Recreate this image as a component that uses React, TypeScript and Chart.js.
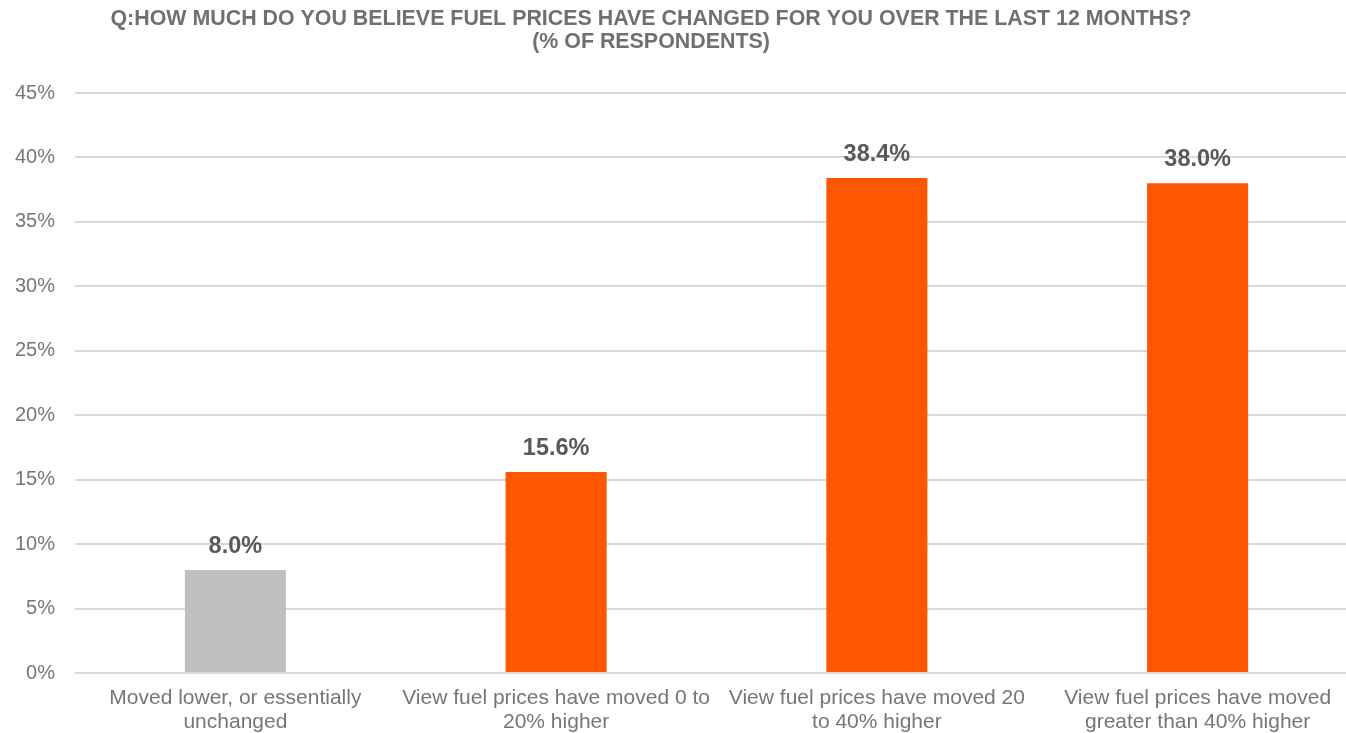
import React, { useEffect, useRef } from "react";
import { Chart, registerables } from "chart.js";

Chart.register(...registerables);

const titleLines = [
  "Q:HOW MUCH DO YOU BELIEVE FUEL PRICES HAVE CHANGED FOR YOU OVER THE LAST 12 MONTHS?",
  "(% OF RESPONDENTS)",
];

const categories: string[][] = [
  ["Moved lower, or essentially", "unchanged"],
  ["View fuel prices have moved 0 to", "20% higher"],
  ["View fuel prices have moved 20", "to 40% higher"],
  ["View fuel prices have moved", "greater than 40% higher"],
];

const respondentShare = [8.0, 15.6, 38.4, 38.0];

const barColors = ["#BFBFBF", "#FF5600", "#FF5600", "#FF5600"];

const yTicks = [0, 5, 10, 15, 20, 25, 30, 35, 40, 45];

const FONT = "'Liberation Sans', Arial, Helvetica, sans-serif";

// Two-line heading drawn in the space above the plot area
const titlePlugin = {
  id: "centredTitle",
  afterDraw(chart: Chart) {
    const ctx = chart.ctx;
    ctx.save();
    ctx.font = `bold 21.4px ${FONT}`;
    ctx.fillStyle = "#707070";
    ctx.textAlign = "center";
    ctx.textBaseline = "alphabetic";
    ctx.fillText(titleLines[0], 651, 25);
    ctx.fillText(titleLines[1], 651, 48);
    ctx.restore();
  },
};

// Percentage value printed above each bar
const valueLabelPlugin = {
  id: "valueLabels",
  afterDatasetsDraw(chart: Chart) {
    const ctx = chart.ctx;
    const meta = chart.getDatasetMeta(0);
    ctx.save();
    ctx.font = `bold 23.5px ${FONT}`;
    ctx.fillStyle = "#595959";
    ctx.textAlign = "center";
    ctx.textBaseline = "alphabetic";
    meta.data.forEach((bar: any, i: number) => {
      const v = respondentShare[i];
      ctx.fillText(v.toFixed(1) + "%", bar.x, bar.y - 17);
    });
    ctx.restore();
  },
};

export default function App() {
  const canvasRef = useRef<HTMLCanvasElement | null>(null);

  useEffect(() => {
    if (!canvasRef.current) return;
    const chart = new Chart(canvasRef.current, {
      type: "bar",
      data: {
        labels: categories,
        datasets: [
          {
            data: respondentShare,
            backgroundColor: barColors,
            borderWidth: 0,
            categoryPercentage: 1,
            barPercentage: 0.315,
          },
        ],
      },
      options: {
        responsive: false,
        animation: false,
        layout: { padding: { top: 93, right: 0, bottom: 0, left: 0 } },
        plugins: {
          legend: { display: false },
          title: { display: false },
          tooltip: { enabled: false },
        },
        scales: {
          x: {
            grid: { display: false, drawTicks: false },
            border: { display: false },
            ticks: {
              color: "#767676",
              font: { family: FONT, size: 21, lineHeight: 1.14 },
              padding: 13,
              maxRotation: 0,
              autoSkip: false,
            },
            afterFit(scale: any) {
              scale.height = 60;
            },
          },
          y: {
            min: 0,
            max: 45,
            afterBuildTicks(scale: any) {
              scale.ticks = yTicks.map((v) => ({ value: v }));
            },
            grid: { color: "#D9D9D9", lineWidth: 2, drawTicks: false },
            border: { display: false },
            ticks: {
              color: "#767676",
              font: { family: FONT, size: 20 },
              padding: 20,
              callback: (v: any) => `${v}%`,
            },
            afterFit(scale: any) {
              scale.width = 75;
            },
          },
        },
      },
      plugins: [titlePlugin, valueLabelPlugin],
    });
    return () => chart.destroy();
  }, []);

  return (
    <div
      style={{
        position: "fixed",
        left: 0,
        top: 0,
        width: 1346,
        height: 733,
        overflow: "hidden",
        background: "#FFFFFF",
      }}
    >
      <canvas ref={canvasRef} width={1358} height={733} style={{ display: "block" }} />
    </div>
  );
}
